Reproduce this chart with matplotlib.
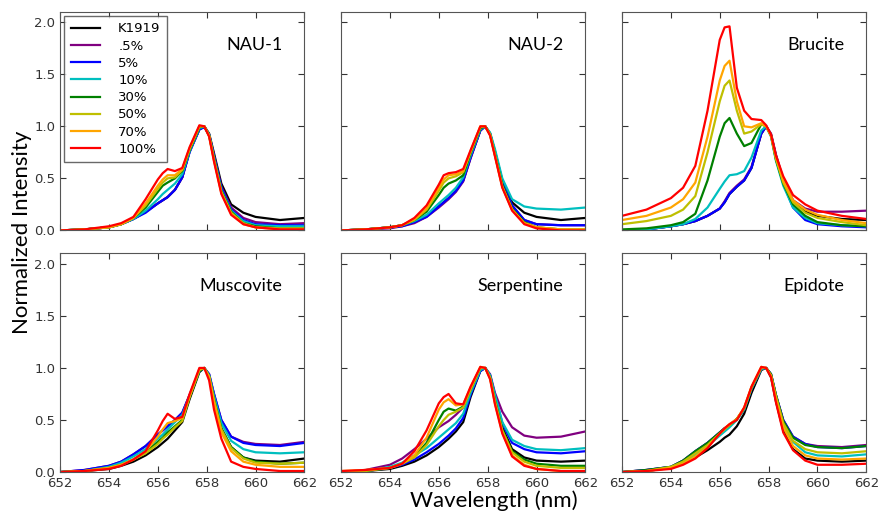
import numpy as np
import matplotlib
matplotlib.use("Agg")
import matplotlib.pyplot as plt

# wavelength grid (nm)
wl = [652.0, 653.0, 654.0, 654.5, 655.0, 655.5, 656.0, 656.2, 656.4, 656.7, 657.0,
      657.3, 657.7, 657.9, 658.1, 658.3, 658.6, 659.0, 659.5, 660.0, 661.0, 662.0]

labels = ["K1919", ".5%", "5%", "10%", "30%", "50%", "70%", "100%"]
colors = ["k", "#800080", "b", "c", "g", "y", "#FFA500", "r"]
panels = ["NAU-1", "NAU-2", "Brucite", "Muscovite", "Serpentine", "Epidote"]

# normalized spectra, one row per mixture (same order as labels)
nau1 = [
    [0.0, 0.01, 0.03, 0.06, 0.11, 0.18, 0.26, 0.29, 0.32, 0.39, 0.51, 0.76, 0.97, 1.0, 0.93, 0.74, 0.45, 0.25, 0.17, 0.13, 0.10, 0.12],
    [0.0, 0.01, 0.03, 0.06, 0.11, 0.18, 0.26, 0.29, 0.32, 0.39, 0.51, 0.76, 0.97, 1.0, 0.92, 0.72, 0.42, 0.22, 0.12, 0.08, 0.06, 0.07],
    [0.0, 0.01, 0.03, 0.06, 0.11, 0.17, 0.26, 0.29, 0.32, 0.39, 0.51, 0.75, 0.97, 0.99, 0.92, 0.71, 0.41, 0.20, 0.10, 0.06, 0.05, 0.05],
    [0.0, 0.01, 0.03, 0.06, 0.11, 0.19, 0.30, 0.35, 0.39, 0.45, 0.54, 0.76, 0.98, 1.0, 0.92, 0.70, 0.39, 0.19, 0.09, 0.05, 0.04, 0.04],
    [0.0, 0.01, 0.03, 0.06, 0.12, 0.22, 0.37, 0.43, 0.46, 0.50, 0.57, 0.77, 0.99, 1.0, 0.91, 0.69, 0.38, 0.18, 0.07, 0.04, 0.02, 0.02],
    [0.0, 0.01, 0.03, 0.06, 0.12, 0.24, 0.40, 0.46, 0.50, 0.51, 0.58, 0.78, 1.0, 1.0, 0.91, 0.68, 0.37, 0.17, 0.07, 0.03, 0.02, 0.02],
    [0.0, 0.01, 0.03, 0.06, 0.12, 0.26, 0.43, 0.49, 0.53, 0.53, 0.59, 0.79, 1.0, 1.0, 0.91, 0.67, 0.36, 0.16, 0.06, 0.03, 0.01, 0.01],
    [0.0, 0.01, 0.04, 0.07, 0.13, 0.30, 0.49, 0.55, 0.59, 0.57, 0.60, 0.80, 1.01, 1.0, 0.90, 0.66, 0.35, 0.15, 0.06, 0.03, 0.01, 0.01],
]

nau2 = [
    [0.0, 0.01, 0.03, 0.05, 0.08, 0.14, 0.23, 0.27, 0.31, 0.38, 0.48, 0.70, 0.96, 1.0, 0.93, 0.76, 0.48, 0.27, 0.17, 0.13, 0.10, 0.12],
    [0.0, 0.01, 0.02, 0.04, 0.07, 0.13, 0.22, 0.26, 0.30, 0.37, 0.47, 0.69, 0.96, 1.0, 0.93, 0.75, 0.46, 0.24, 0.10, 0.06, 0.05, 0.05],
    [0.0, 0.01, 0.03, 0.04, 0.08, 0.13, 0.23, 0.27, 0.31, 0.38, 0.48, 0.70, 0.96, 1.0, 0.93, 0.75, 0.46, 0.24, 0.10, 0.06, 0.05, 0.05],
    [0.0, 0.01, 0.03, 0.05, 0.09, 0.15, 0.26, 0.30, 0.34, 0.41, 0.51, 0.72, 0.97, 1.0, 0.94, 0.78, 0.50, 0.30, 0.23, 0.21, 0.20, 0.22],
    [0.0, 0.01, 0.03, 0.05, 0.10, 0.18, 0.34, 0.41, 0.45, 0.48, 0.53, 0.74, 0.98, 1.0, 0.92, 0.73, 0.44, 0.21, 0.08, 0.03, 0.01, 0.01],
    [0.0, 0.01, 0.03, 0.05, 0.10, 0.20, 0.38, 0.46, 0.50, 0.52, 0.56, 0.75, 0.99, 1.0, 0.92, 0.72, 0.42, 0.20, 0.07, 0.03, 0.01, 0.01],
    [0.0, 0.01, 0.03, 0.05, 0.11, 0.21, 0.41, 0.49, 0.53, 0.54, 0.57, 0.76, 1.0, 1.0, 0.92, 0.72, 0.42, 0.20, 0.07, 0.03, 0.01, 0.01],
    [0.0, 0.01, 0.03, 0.05, 0.12, 0.24, 0.44, 0.53, 0.55, 0.56, 0.59, 0.77, 1.0, 1.0, 0.91, 0.71, 0.41, 0.19, 0.06, 0.02, 0.0, 0.0],
]

brucite = [
    [0.0, 0.01, 0.04, 0.06, 0.09, 0.14, 0.21, 0.27, 0.35, 0.42, 0.48, 0.60, 0.93, 1.0, 0.92, 0.72, 0.48, 0.28, 0.18, 0.14, 0.11, 0.10],
    [0.0, 0.01, 0.04, 0.06, 0.09, 0.14, 0.21, 0.28, 0.36, 0.43, 0.49, 0.61, 0.93, 1.0, 0.93, 0.73, 0.49, 0.29, 0.21, 0.18, 0.18, 0.19],
    [0.0, 0.01, 0.04, 0.06, 0.09, 0.14, 0.21, 0.27, 0.35, 0.42, 0.48, 0.60, 0.93, 1.0, 0.91, 0.70, 0.45, 0.22, 0.10, 0.06, 0.04, 0.03],
    [0.0, 0.01, 0.04, 0.06, 0.11, 0.22, 0.40, 0.47, 0.53, 0.54, 0.57, 0.70, 0.96, 1.0, 0.90, 0.67, 0.43, 0.22, 0.12, 0.07, 0.05, 0.04],
    [0.01, 0.02, 0.05, 0.08, 0.16, 0.48, 0.90, 1.03, 1.08, 0.93, 0.81, 0.84, 1.02, 1.0, 0.91, 0.68, 0.45, 0.25, 0.14, 0.08, 0.05, 0.04],
    [0.06, 0.09, 0.14, 0.20, 0.33, 0.75, 1.24, 1.39, 1.44, 1.15, 0.93, 0.95, 1.02, 1.0, 0.91, 0.69, 0.46, 0.27, 0.17, 0.12, 0.08, 0.05],
    [0.10, 0.14, 0.22, 0.30, 0.46, 0.90, 1.44, 1.58, 1.63, 1.24, 1.0, 0.99, 1.03, 1.0, 0.91, 0.70, 0.48, 0.29, 0.20, 0.15, 0.10, 0.07],
    [0.14, 0.20, 0.31, 0.41, 0.62, 1.15, 1.83, 1.95, 1.96, 1.37, 1.15, 1.07, 1.06, 1.01, 0.92, 0.72, 0.52, 0.34, 0.25, 0.19, 0.14, 0.11],
]

muscovite = [
    [0.0, 0.01, 0.03, 0.06, 0.10, 0.16, 0.24, 0.28, 0.32, 0.40, 0.48, 0.70, 0.96, 1.0, 0.92, 0.70, 0.42, 0.24, 0.14, 0.11, 0.10, 0.13],
    [0.0, 0.02, 0.06, 0.10, 0.17, 0.25, 0.36, 0.40, 0.44, 0.50, 0.57, 0.74, 0.97, 1.0, 0.94, 0.75, 0.50, 0.34, 0.29, 0.27, 0.26, 0.29],
    [0.0, 0.02, 0.06, 0.10, 0.17, 0.25, 0.36, 0.40, 0.44, 0.50, 0.57, 0.74, 0.97, 1.0, 0.94, 0.75, 0.50, 0.34, 0.28, 0.26, 0.25, 0.28],
    [0.0, 0.01, 0.05, 0.09, 0.15, 0.22, 0.32, 0.36, 0.41, 0.48, 0.55, 0.73, 0.97, 1.0, 0.93, 0.73, 0.47, 0.30, 0.22, 0.19, 0.18, 0.19],
    [0.0, 0.01, 0.04, 0.07, 0.12, 0.19, 0.29, 0.33, 0.38, 0.44, 0.50, 0.72, 0.97, 1.0, 0.92, 0.70, 0.42, 0.24, 0.14, 0.10, 0.08, 0.09],
    [0.0, 0.01, 0.04, 0.07, 0.12, 0.18, 0.27, 0.32, 0.36, 0.43, 0.49, 0.72, 0.98, 1.0, 0.92, 0.69, 0.41, 0.23, 0.13, 0.09, 0.08, 0.09],
    [0.0, 0.01, 0.04, 0.07, 0.12, 0.20, 0.34, 0.41, 0.47, 0.49, 0.52, 0.73, 0.99, 1.0, 0.91, 0.67, 0.38, 0.20, 0.10, 0.07, 0.05, 0.05],
    [0.0, 0.01, 0.03, 0.06, 0.12, 0.20, 0.40, 0.49, 0.56, 0.51, 0.53, 0.75, 1.0, 1.0, 0.88, 0.60, 0.32, 0.10, 0.05, 0.03, 0.01, 0.01],
]

serpentine = [
    [0.0, 0.01, 0.03, 0.06, 0.10, 0.16, 0.24, 0.28, 0.32, 0.39, 0.48, 0.72, 0.97, 1.0, 0.92, 0.72, 0.43, 0.22, 0.14, 0.11, 0.10, 0.11],
    [0.0, 0.02, 0.07, 0.13, 0.22, 0.32, 0.43, 0.46, 0.49, 0.55, 0.62, 0.78, 0.98, 1.0, 0.94, 0.76, 0.58, 0.43, 0.35, 0.33, 0.34, 0.39],
    [0.0, 0.01, 0.04, 0.07, 0.12, 0.19, 0.27, 0.31, 0.35, 0.42, 0.52, 0.74, 0.97, 1.0, 0.93, 0.74, 0.47, 0.28, 0.22, 0.19, 0.18, 0.20],
    [0.0, 0.01, 0.05, 0.09, 0.16, 0.23, 0.33, 0.37, 0.41, 0.47, 0.56, 0.76, 0.98, 1.0, 0.93, 0.74, 0.48, 0.31, 0.25, 0.22, 0.21, 0.23],
    [0.0, 0.01, 0.04, 0.08, 0.15, 0.28, 0.50, 0.58, 0.61, 0.59, 0.63, 0.79, 1.0, 1.0, 0.91, 0.69, 0.41, 0.20, 0.12, 0.08, 0.06, 0.06],
    [0.0, 0.01, 0.04, 0.08, 0.14, 0.26, 0.44, 0.50, 0.55, 0.58, 0.62, 0.79, 1.0, 1.0, 0.91, 0.68, 0.40, 0.19, 0.10, 0.06, 0.04, 0.04],
    [0.01, 0.02, 0.04, 0.08, 0.16, 0.33, 0.60, 0.67, 0.70, 0.64, 0.65, 0.81, 1.01, 1.0, 0.90, 0.66, 0.38, 0.16, 0.07, 0.03, 0.01, 0.01],
    [0.01, 0.02, 0.04, 0.08, 0.20, 0.40, 0.66, 0.72, 0.75, 0.66, 0.65, 0.82, 1.01, 1.0, 0.89, 0.65, 0.37, 0.15, 0.06, 0.03, 0.01, 0.01],
]

epidote = [
    [0.0, 0.01, 0.04, 0.08, 0.14, 0.21, 0.29, 0.33, 0.36, 0.44, 0.56, 0.76, 0.98, 1.0, 0.91, 0.68, 0.40, 0.22, 0.13, 0.11, 0.10, 0.11],
    [0.0, 0.02, 0.05, 0.11, 0.20, 0.28, 0.38, 0.42, 0.45, 0.51, 0.60, 0.80, 0.99, 1.0, 0.94, 0.74, 0.50, 0.34, 0.27, 0.25, 0.24, 0.26],
    [0.0, 0.02, 0.05, 0.11, 0.20, 0.28, 0.38, 0.42, 0.45, 0.51, 0.60, 0.80, 0.99, 1.0, 0.94, 0.74, 0.50, 0.34, 0.27, 0.24, 0.23, 0.25],
    [0.0, 0.01, 0.05, 0.09, 0.17, 0.25, 0.35, 0.39, 0.43, 0.50, 0.60, 0.80, 0.99, 1.0, 0.93, 0.72, 0.46, 0.29, 0.19, 0.16, 0.15, 0.17],
    [0.0, 0.02, 0.05, 0.11, 0.20, 0.28, 0.38, 0.42, 0.45, 0.51, 0.61, 0.81, 1.0, 1.0, 0.94, 0.74, 0.49, 0.33, 0.26, 0.24, 0.23, 0.25],
    [0.0, 0.01, 0.05, 0.10, 0.18, 0.26, 0.37, 0.41, 0.45, 0.51, 0.61, 0.81, 1.0, 1.0, 0.93, 0.73, 0.47, 0.30, 0.22, 0.19, 0.18, 0.20],
    [0.0, 0.01, 0.04, 0.08, 0.15, 0.24, 0.37, 0.42, 0.46, 0.51, 0.62, 0.82, 1.01, 1.0, 0.92, 0.70, 0.43, 0.25, 0.16, 0.13, 0.12, 0.13],
    [0.0, 0.01, 0.03, 0.07, 0.13, 0.23, 0.37, 0.42, 0.46, 0.50, 0.62, 0.82, 1.01, 1.0, 0.91, 0.67, 0.38, 0.21, 0.11, 0.07, 0.07, 0.08],
]

data = [nau1, nau2, brucite, muscovite, serpentine, epidote]

fig, axes = plt.subplots(2, 3, figsize=(8.84, 5.12), dpi=100, sharex=True, sharey=True)
fig.subplots_adjust(left=0.068, right=0.98, top=0.977, bottom=0.078, wspace=0.15, hspace=0.105)

for ax, name, spectra in zip(axes.flat, panels, data):
    for y, c, lab in zip(spectra, colors, labels):
        ax.plot(wl, y, color=c, lw=1.6, label=lab)
    ax.text(0.91, 0.85, name, transform=ax.transAxes, ha="right", va="center",
            fontsize=13, family="Lato")
    ax.set_xlim(652, 662)
    ax.set_ylim(0, 2.1)
    ax.set_xticks(np.arange(652, 663, 2))
    ax.set_yticks(np.arange(0, 2.01, 0.5))
    ax.tick_params(direction="in", top=True, right=True, length=4,
                   labelsize=9.5, colors="#333333")
    for sp in ax.spines.values():
        sp.set_color("#555555")

axes[0, 0].yaxis.set_major_formatter(matplotlib.ticker.FormatStrFormatter("%.1f"))

leg = axes[0, 0].legend(loc="upper left", bbox_to_anchor=(0.0, 1.0), fontsize=9.5,
                        fancybox=False, handlelength=2.2, handletextpad=1.4,
                        labelspacing=0.32, borderpad=0.5, borderaxespad=0.3)
leg.get_frame().set_edgecolor("#444444")
leg.get_frame().set_linewidth(1.0)

fig.text(0.559, 0.022, "Wavelength (nm)", ha="center", va="center", fontsize=16, family="Lato")
fig.text(0.025, 0.547, "Normalized Intensity", ha="center", va="center", rotation=90,
         fontsize=16, family="Lato")

plt.savefig("out.png", dpi=100)
